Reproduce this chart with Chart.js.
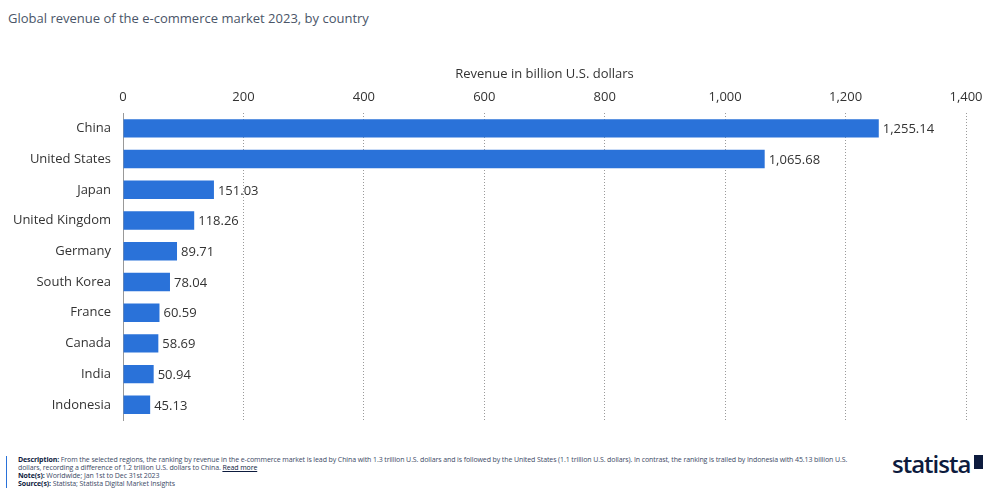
<!DOCTYPE html>
<html lang="en">
<head>
  <meta charset="UTF-8">
  <title>Global revenue of the e-commerce market 2023, by country</title>
  <script src="https://cdn.jsdelivr.net/npm/chart.js"></script>
  <style>
    body {
      margin: 0;
      background: #ffffff;
      font-family: "Open Sans", Arial, sans-serif;
      width: 985px;
      height: 488px;
      position: relative;
      overflow: hidden;
    }

    .title {
      position: absolute;
      left: 8px;
      top: 9px;
      font-size: 13px;
      color: #4a5568;
    }

    .chart-container {
      position: absolute;
      left: 0;
      top: 0;
      width: 985px;
      height: 440px;
    }

    /* footer with description and source */
    .footer {
      position: absolute;
      left: 6px;
      top: 456px;
      padding-left: 11px;
      border-left: 1px solid #2a72d9;
      font-size: 7px;
      line-height: 8px;
      color: #3c4a66;
      width: 850px;
      letter-spacing: -0.1px;
    }
    .footer b { color: #0d1b3e; }
    .footer u { color: #0d1b3e; }

    .logo {
      position: absolute;
      left: 892px;
      top: 447px;
      font-family: "Open Sans", Arial, sans-serif;
      font-weight: 600;
      font-size: 24px;
      color: #0d1b3e;
      letter-spacing: -1px;
    }
    .logo-mark {
      position: absolute;
      left: 974px;
      top: 455px;
      width: 9px;
      height: 14px;
      background: #0d1b3e;
    }
  </style>
</head>
<body>
  <div class="title">Global revenue of the e-commerce market 2023, by country</div>
  <div class="chart-container">
    <canvas id="revenueChart"></canvas>
  </div>
  <div class="footer">
    <b>Description:</b> From the selected regions, the ranking by revenue in the e-commerce market is lead by China with 1.3 trillion U.S. dollars and is followed by the United States (1.1 trillion U.S. dollars). In contrast, the ranking is trailed by Indonesia with 45.13 billion U.S. dollars, recording a difference of 1.2 trillion U.S. dollars to China. <u>Read more</u><br>
    <b>Note(s):</b> Worldwide; Jan 1st to Dec 31st 2023<br>
    <b>Source(s):</b> Statista; Statista Digital Market Insights
  </div>
  <div class="logo">statista</div>
  <div class="logo-mark"></div>

  <script>
    const countries = ['China', 'United States', 'Japan', 'United Kingdom', 'Germany',
      'South Korea', 'France', 'Canada', 'India', 'Indonesia'];
    const revenue = [1255.14, 1065.68, 151.03, 118.26, 89.71, 78.04, 60.59, 58.69, 50.94, 45.13];
    const xTicks = [0, 200, 400, 600, 800, 1000, 1200, 1400];

    const fmt = new Intl.NumberFormat('en-US');
    const fmt2 = new Intl.NumberFormat('en-US', { minimumFractionDigits: 2, maximumFractionDigits: 2 });

    // writes each value just past the end of its bar
    const valueLabels = {
      id: 'valueLabels',
      afterDatasetsDraw(chart) {
        const { ctx } = chart;
        const meta = chart.getDatasetMeta(0);
        ctx.save();
        ctx.font = '13px "Open Sans", Arial, sans-serif';
        ctx.fillStyle = '#333333';
        ctx.textAlign = 'left';
        ctx.textBaseline = 'middle';
        meta.data.forEach((bar, i) => {
          ctx.fillText(fmt2.format(revenue[i]), bar.x + 4, bar.y + 1);
        });
        ctx.restore();
      }
    };

    const ctx = document.getElementById('revenueChart').getContext('2d');
    new Chart(ctx, {
      type: 'bar',
      data: {
        labels: countries,
        datasets: [{
          data: revenue,
          backgroundColor: '#2a72d9',
          borderWidth: 0,
          barPercentage: 0.6,
          categoryPercentage: 1.0
        }]
      },
      options: {
        indexAxis: 'y',
        responsive: true,
        maintainAspectRatio: false,
        animation: false,
        layout: { padding: { top: 66, right: 19, bottom: 19, left: 0 } },
        plugins: {
          legend: { display: false },
          tooltip: { enabled: false }
        },
        scales: {
          x: {
            position: 'top',
            min: 0,
            max: 1400,
            afterBuildTicks(scale) {
              scale.ticks = xTicks.map(v => ({ value: v }));
            },
            afterFit(scale) {
              scale.height = 47;
              // let the end labels overhang instead of shrinking the plot
              scale.paddingLeft = 0;
              scale.paddingRight = 0;
            },
            title: {
              display: true,
              text: 'Revenue in billion U.S. dollars',
              color: '#333333',
              font: { family: '"Open Sans", Arial, sans-serif', size: 13 },
              padding: { top: 0, bottom: 4 }
            },
            ticks: {
              color: '#333333',
              font: { family: '"Open Sans", Arial, sans-serif', size: 13 },
              padding: 8,
              callback: v => fmt.format(v)
            },
            grid: {
              color: '#9a9a9a',
              drawTicks: false
            },
            border: { display: false, dash: [1, 2] }
          },
          y: {
            afterFit(scale) { scale.width = 123; },
            ticks: {
              color: '#333333',
              font: { family: '"Open Sans", Arial, sans-serif', size: 13 },
              padding: 12
            },
            grid: { display: false, drawTicks: false },
            border: { display: true, color: '#999999', width: 1 }
          }
        }
      },
      plugins: [valueLabels]
    });
  </script>
</body>
</html>
